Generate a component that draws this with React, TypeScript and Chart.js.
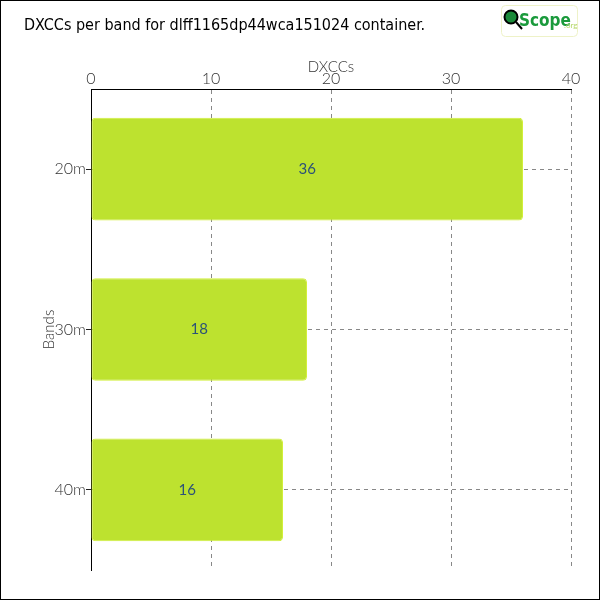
import React, { useEffect, useRef } from "react";
import { Chart, registerables } from "chart.js";

Chart.register(...registerables);

const titleText = "DXCCs per band for dlff1165dp44wca151024 container.";
const bands = ["20m", "30m", "40m"];
const dxccs = [36, 18, 16];
const xMax = 40;
const xStep = 10;
const xAxisTitle = "DXCCs";
const yAxisTitle = "Bands";

const FONT = "Lato, 'DejaVu Sans', sans-serif";

const decorPlugin = {
  id: "decor",
  afterDatasetsDraw(chart: any) {
    const ctx = chart.ctx;
    const meta = chart.getDatasetMeta(0);
    ctx.save();
    ctx.font = `400 15px ${FONT}`;
    ctx.fillStyle = "#2c5278";
    ctx.textAlign = "center";
    ctx.textBaseline = "middle";
    meta.data.forEach((el: any, i: number) => {
      const cx = (el.x + el.base) / 2;
      ctx.fillText(String(dxccs[i]), cx, el.y);
    });
    ctx.restore();
  },
  afterDraw(chart: any) {
    const ctx = chart.ctx;
    ctx.save();
    // frame
    ctx.strokeStyle = "#000";
    ctx.lineWidth = 1;
    ctx.strokeRect(0.5, 0.5, chart.width - 1, chart.height - 1);
    // title
    ctx.fillStyle = "#000";
    ctx.font = `16px 'DejaVu Sans Condensed', 'DejaVu Sans', sans-serif`;
    ctx.textAlign = "left";
    ctx.textBaseline = "middle";
    ctx.fillText(titleText, 24, 26);
    // logo box
    const bx = 501, by = 5, bw = 76, bh = 31;
    ctx.strokeStyle = "#eef2c8";
    ctx.lineWidth = 1;
    ctx.beginPath();
    (ctx as any).roundRect(bx + 0.5, by + 0.5, bw, bh, 4);
    ctx.stroke();
    // magnifier
    ctx.fillStyle = "#1b8a3a";
    ctx.beginPath();
    ctx.arc(511, 17, 6.5, 0, Math.PI * 2);
    ctx.fill();
    ctx.strokeStyle = "#000";
    ctx.lineWidth = 2;
    ctx.beginPath();
    ctx.arc(511, 17, 6.5, 0, Math.PI * 2);
    ctx.stroke();
    ctx.beginPath();
    ctx.moveTo(516, 22);
    ctx.lineTo(522, 29);
    ctx.stroke();
    ctx.fillStyle = "#1a9a3c";
    ctx.font = `bold 17px 'DejaVu Sans Condensed', sans-serif`;
    ctx.textBaseline = "alphabetic";
    ctx.fillText("Scope", 519, 26);
    ctx.fillStyle = "#b5d86a";
    ctx.font = `8px ${FONT}`;
    ctx.fillText(".org", 564, 28);
    ctx.restore();
  },
};

export default function App() {
  const ref = useRef<HTMLCanvasElement>(null);
  useEffect(() => {
    if (!ref.current) return;
    const chart = new Chart(ref.current, {
      type: "bar",
      data: {
        labels: bands,
        datasets: [
          {
            data: dxccs,
            backgroundColor: "#bde22f",
            borderColor: "#d2ef3a",
            borderWidth: 1,
            borderSkipped: false,
            borderRadius: 4,
            barPercentage: 0.8,
            categoryPercentage: 0.8,
          },
        ],
      },
      options: {
        indexAxis: "y",
        animation: false,
        responsive: false,
        maintainAspectRatio: false,
        layout: { padding: { top: 56, left: 36, right: 29, bottom: 30 } },
        plugins: {
          legend: { display: false },
          title: { display: false },
          tooltip: { enabled: false },
        },
        scales: {
          x: {
            position: "top",
            min: 0,
            max: xMax,
            ticks: {
              stepSize: xStep,
              color: "#333",
              padding: 1,
              font: { family: FONT, size: 16, weight: "300" },
            },
            grid: {
              color: "#888",
              drawTicks: false,
            },
            border: { display: true, color: "#000", width: 1, dash: [4, 4] },
            title: {
              display: true,
              text: xAxisTitle,
              color: "#333",
              padding: { top: 2, bottom: 0 },
              font: { family: FONT, size: 15, weight: "300" },
            },
            afterFit: (s: any) => {
              s.height = 33;
            },
          },
          y: {
            ticks: {
              color: "#333",
              padding: 0,
              font: { family: FONT, size: 16, weight: "300" },
            },
            grid: {
              color: "#888",
              offset: false,
              tickLength: 5,
              tickColor: "#222",
            },
            border: { display: true, color: "#000", width: 1, dash: [4, 4] },
            title: {
              display: true,
              text: yAxisTitle,
              color: "#333",
              padding: { top: 4, bottom: 0 },
              font: { family: FONT, size: 15, weight: "300" },
            },
            afterFit: (s: any) => {
              s.width = 55;
            },
          },
        },
      } as any,
      plugins: [decorPlugin],
    });
    return () => chart.destroy();
  }, []);
  return (
    <div style={{ position: "absolute", left: 0, top: 0, width: 600, height: 600, background: "#fff" }}>
      <canvas ref={ref} width={600} height={600} style={{ display: "block" }} />
    </div>
  );
}
